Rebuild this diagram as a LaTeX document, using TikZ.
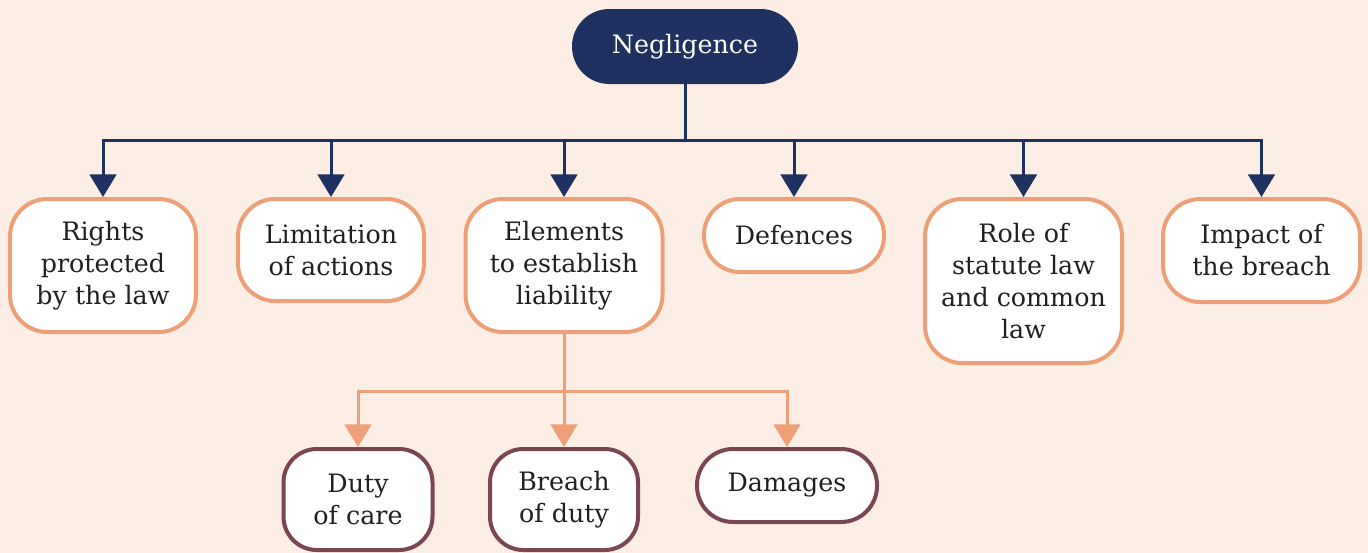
\documentclass[tikz,border=0pt]{standalone}
\usepackage{fontspec}
\setmainfont{DejaVu Serif}
\usetikzlibrary{arrows.meta}

\definecolor{bgpeach}{HTML}{FCEEE5}
\definecolor{navy}{HTML}{1F3160}
\definecolor{apricot}{HTML}{EDA077}
\definecolor{plum}{HTML}{7B4651}
\definecolor{ink}{HTML}{231F20}

\begin{document}
\begin{tikzpicture}[x=0.75pt,y=-0.75pt,
  base/.style={rectangle, rounded corners=28pt, inner sep=0pt, align=center,
    font=\fontsize{19}{24}\selectfont, text=ink, fill=white},
  rootbox/.style={base, fill=navy, text=white, minimum width=169.5pt, minimum height=56.25pt},
  topicbox/.style={base, draw=apricot, line width=3pt},
  pill/.style={rounded corners=27pt},
  subbox/.style={base, draw=plum, line width=3pt, rounded corners=25pt},
  navyline/.style={draw=navy, line width=2.25pt},
  navyarrow/.style={navyline, -{Triangle[width=20pt,length=17pt]}},
  apricotline/.style={draw=apricot, line width=2.25pt},
  apricotarrow/.style={apricotline, -{Triangle[width=20pt,length=17pt]}},
]
% canvas
\fill[bgpeach] (0,0) rectangle (1368,553);
\useasboundingbox (0,0) rectangle (1368,553);

% root
\node[rootbox] (root) at (685,46.5) {Negligence};

% first level topics
\node[topicbox, minimum width=139.5pt, minimum height=99.75pt] (rights) at (103,265.5)
  {Rights\\protected\\by the law};
\node[topicbox, minimum width=139.5pt, minimum height=76.5pt] (limit) at (331,250)
  {Limitation\\of actions};
\node[topicbox, minimum width=147.75pt, minimum height=99.75pt] (elements) at (564,265.5)
  {Elements\\to establish\\liability};
\node[topicbox, pill, minimum width=135pt, minimum height=54.75pt] (defences) at (794,235.5)
  {Defences};
\node[topicbox, minimum width=147.75pt, minimum height=123pt] (role) at (1023.5,281)
  {Role of\\statute law\\and common\\law};
\node[topicbox, minimum width=147.75pt, minimum height=77.25pt] (impact) at (1261.5,250.5)
  {Impact of\\the breach};

% elements of liability
\node[subbox, minimum width=111.75pt, minimum height=75.75pt] (duty) at (358,499.5)
  {Duty\\of care};
\node[subbox, minimum width=111pt, minimum height=75.75pt] (breach) at (564,499.5)
  {Breach\\of duty};
\node[subbox, pill, minimum width=135pt, minimum height=54.75pt] (damages) at (787,485.5)
  {Damages};

% connectors from the root
\coordinate (bus) at (685,140);
\draw[navyline] (root.south) -- (bus);
\foreach \t in {rights,limit,elements,defences,role,impact}
  \draw[navyarrow] (bus) -| (\t.north);

% connectors to the elements
\coordinate (subbus) at (564,391);
\draw[apricotline] (elements.south) -- (subbus);
\foreach \t in {duty,breach,damages}
  \draw[apricotarrow] (subbus) -| (\t.north);
\end{tikzpicture}
\end{document}
